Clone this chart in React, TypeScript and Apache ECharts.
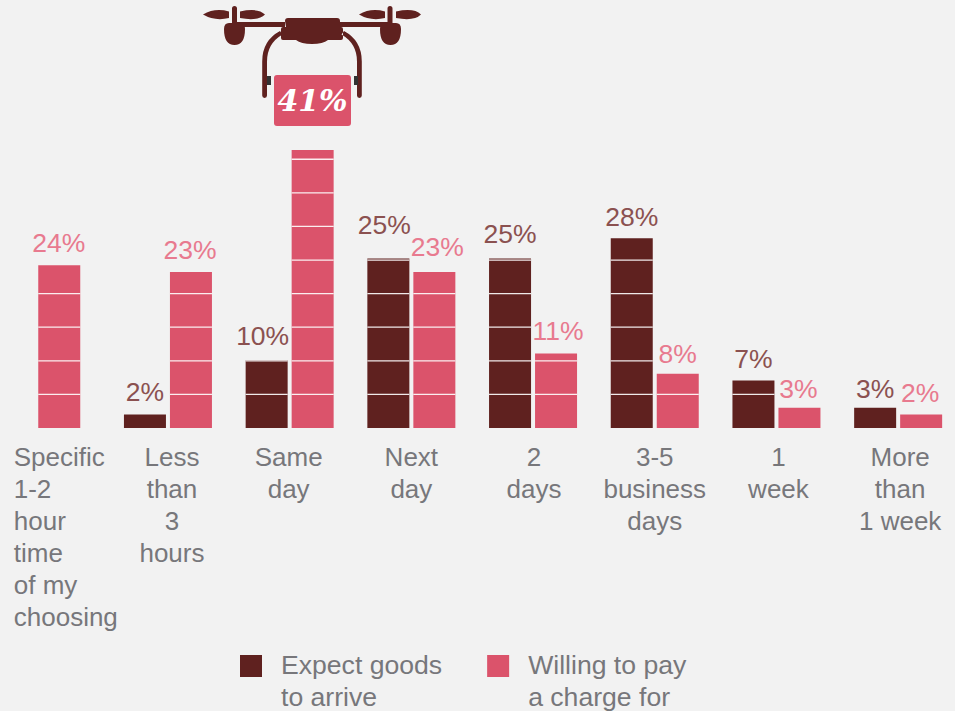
import React, { useEffect, useRef } from "react";
import * as echarts from "echarts";

const categories = [
  "Specific\n1-2\nhour\ntime\nof my\nchoosing",
  "Less\nthan\n3\nhours",
  "Same\nday",
  "Next\nday",
  "2\ndays",
  "3-5\nbusiness\ndays",
  "1\nweek",
  "More\nthan\n1 week",
];
const expectValues = [null, 2, 10, 25, 25, 28, 7, 3];
const willingValues = [24, 23, 41, 23, 11, 8, 3, 2];
const seriesNames = ["Expect goods\nto arrive", "Willing to pay\na charge for"];

const DARK = "#5f211f";
const PINK = "#db536b";
const DARK_LABEL = "#8b5150";
const PINK_LABEL = "#e87a8f";
const GREY = "#77777b";
const BG = "#f2f2f2";
const FONT = '"Liberation Sans", Arial, sans-serif';
const AXIS_FONT_SIZE = 26;
const LABEL_FONT_SIZE = 26.5;
const LEGEND_FONT_SIZE = 26.6;
const BAR_W = 42;
const BAR_GAP = 4;
const RULE_STEP = 4.955;
const CALLOUT_VALUE = 41;
const FIRST_CATEGORY_NUDGE = -10;
// [dx, dy] per series side and category index
const LABEL_NUDGE: Record<string, [number, number]> = {
  "-1:1": [0, -2],
  "-1:2": [-4, -4],
  "-1:3": [-4, -13],
  "-1:4": [0, -4],
  "-1:5": [0, -1],
  "-1:6": [0, -1],
  "-1:7": [0, 2],
  "1:0": [-0.5, -2],
  "1:1": [-1, -2],
  "1:3": [3, -5],
  "1:4": [2, -2],
  "1:5": [0, 1],
  "1:6": [-1, 2],
  "1:7": [-1, -1],
};
// horizontal shift of the axis label blocks, by category index
const AXIS_LABEL_SHIFT = [0, 4, -1, 0, 1, 0, 2, 2];

const dronePath =
  "M285 21q0-3 3-3h49q3 0 3 3v6h1q2 0 2 2v9q0 2-2 2h-13q-5 4-16 4t-16-4h-13q-2 0-2-2v-9q0-2 2-2h3z" +
  "M235 22h50v5h-50z M340 22h50v5h-50z" +
  "M232 8.5q0-2.5 2.5-2.5t2.5 2.5v15h-5z M387.5 8.5q0-2.5 2.5-2.5t2.5 2.5v15h-5z" +
  "M229 23h12q4 0 4 6q0 16-10.5 16t-10.5-16q0-6 5-6z" +
  "M384 23h12q5 0 5 6q0 16-10.5 16t-10.5-16q0-6 4-6z" +
  "M203 14.500q12-7 26-3v6.500q-14 3.500-26-3.500z M240 11.500q18-4 25 3q-7 7-25 3.500z" +
  "M359 14.500q12-7 26-3v6.500q-14 3.500-26-3.500z M396 11.500q18-4 25 3q-7 7-25 3.500z" +
  "M280 31l2.500 3.500q-15.500 9-15.500 27v34q0 2.400-2.400 2.400t-2.400-2.400v-34q0-21 17.800-30.500z" +
  "M344 31l-2.500 3.500q15.500 9 15.500 27v34q0 2.400 2.400 2.400t2.400-2.400v-34q0-21-17.800-30.500z";

echarts.graphic.registerShape("droneBody", echarts.graphic.extendPath(dronePath, {}) as any);

function barSeries(name: string, values: (number | null)[], color: string, labelColor: string, side: -1 | 1) {
  return {
    type: "custom",
    name,
    itemStyle: { color },
    data: values.map((v, i) => [i, v]),
    encode: { x: 0, y: 1 },
    renderItem: (params: any, api: any) => {
      const idx = api.value(0);
      const val = api.value(1);
      if (val == null || isNaN(val)) return { type: "group", children: [] };
      const [cx, y0] = api.coord([idx, 0]);
      const [, yTop] = api.coord([idx, val]);
      let x = side < 0 ? cx - BAR_W - BAR_GAP / 2 : cx + BAR_GAP / 2;
      if (idx === 0) x += FIRST_CATEGORY_NUDGE;
      const children: any[] = [
        { type: "rect", shape: { x, y: yTop, width: BAR_W, height: y0 - yTop }, style: { fill: color } },
      ];
      for (let v = RULE_STEP; v <= val; v += RULE_STEP) {
        const y = api.coord([idx, v])[1];
        children.push({
          type: "line",
          shape: { x1: x, y1: y, x2: x + BAR_W, y2: y },
          style: { stroke: "#ffffff", lineWidth: 1.3, opacity: 0.9 },
        });
      }
      if (val !== CALLOUT_VALUE) {
        const [dx, dy] = LABEL_NUDGE[`${side}:${idx}`] || [0, 0];
        children.push({
          type: "text",
          x: x + BAR_W / 2 + dx,
          y: yTop - 7 + dy,
          style: {
            text: `${val}%`,
            fill: labelColor,
            font: `${LABEL_FONT_SIZE}px ${FONT}`,
            align: "center",
            verticalAlign: "bottom",
          },
        });
      }
      return { type: "group", children };
    },
  };
}

const axisRich: Record<string, any> = {
  first: { width: 65, align: "left", color: GREY, fontSize: AXIS_FONT_SIZE, lineHeight: 32, fontFamily: FONT },
};
AXIS_LABEL_SHIFT.forEach((s, i) => {
  axisRich[`c${i}`] = {
    color: GREY,
    fontSize: AXIS_FONT_SIZE,
    lineHeight: 32,
    fontFamily: FONT,
    padding: [0, s < 0 ? -2 * s : 0, 0, s > 0 ? 2 * s : 0],
  };
});

export default function App() {
  const ref = useRef<HTMLDivElement>(null);
  useEffect(() => {
    const chart = echarts.init(ref.current!, null, { renderer: "svg" });
    chart.setOption({
      animation: false,
      backgroundColor: BG,
      textStyle: { fontFamily: FONT },
      grid: { left: -14.6, width: 973.6, top: 122.9, height: 305.1, outerBoundsMode: "none" },
      xAxis: {
        type: "category",
        data: categories,
        axisLine: { show: false },
        axisTick: { show: false },
        axisLabel: {
          interval: 0,
          margin: 13,
          hideOverlap: false,
          color: GREY,
          fontSize: AXIS_FONT_SIZE,
          lineHeight: 32,
          fontFamily: FONT,
          formatter: (value: string, index: number) =>
            value
              .split("\n")
              .map((l) => `{${index === 0 ? "first" : "c" + index}|${l}}`)
              .join("\n"),
          rich: axisRich,
        },
      },
      yAxis: { type: "value", min: 0, max: 45, show: false, splitLine: { show: false } },
      legend: {
        left: 240,
        top: 649,
        itemWidth: 22,
        itemHeight: 64,
        itemGap: 45,
        padding: 0,
        selectedMode: false,
        icon: "path://M0 0h0v0z M0 6h22v22h-22z M0 64h0v0z",
        textStyle: {
          color: GREY,
          fontSize: LEGEND_FONT_SIZE,
          lineHeight: 32,
          fontFamily: FONT,
          padding: [0, 0, 0, 14],
        },
        data: seriesNames,
      },
      series: [
        barSeries(seriesNames[0], expectValues, DARK, DARK_LABEL, -1),
        barSeries(seriesNames[1], willingValues, PINK, PINK_LABEL, 1),
      ],
      graphic: [
        { type: "droneBody", x: 0, y: 0, style: { fill: DARK } },
        { type: "rect", shape: { x: 267, y: 76, width: 4, height: 9 }, style: { fill: "#333333" } },
        { type: "rect", shape: { x: 354, y: 76, width: 4, height: 9 }, style: { fill: "#333333" } },
        { type: "rect", shape: { x: 274, y: 75, width: 77, height: 51, r: 3 }, style: { fill: PINK } },
        {
          type: "text",
          x: 312.5,
          y: 100.5,
          style: {
            text: `${CALLOUT_VALUE}%`,
            fill: "#ffffff",
            font: 'italic bold 30px "DejaVu Serif", serif',
            align: "center",
            verticalAlign: "middle",
          },
        },
      ],
    });
    return () => chart.dispose();
  }, []);
  return <div ref={ref} style={{ position: "absolute", left: 0, top: 0, width: 955, height: 711 }} />;
}
